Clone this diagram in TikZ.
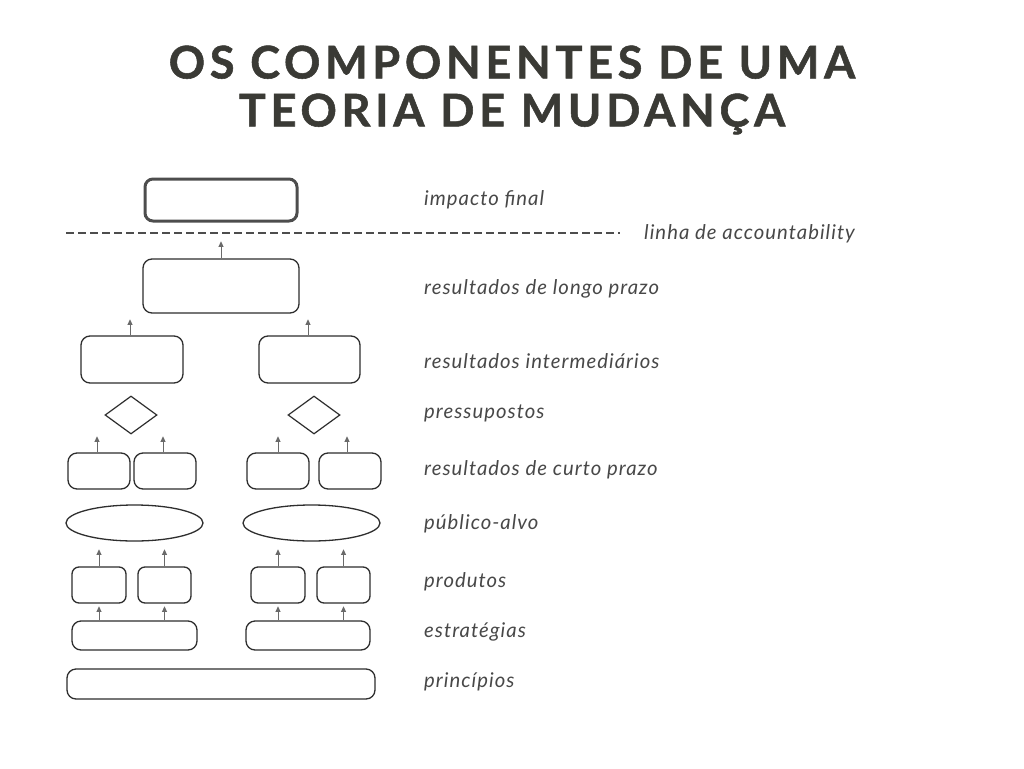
\documentclass[tikz,border=0pt]{standalone}
\usepackage{fontspec}
\setmainfont{Lato}
\newfontfamily\titlefont[LetterSpace=10.5,BoldFeatures={FakeBold=1.2}]{Lato}
\newfontfamily\labelfont[LetterSpace=5]{Lato}
\usetikzlibrary{arrows.meta,shapes.geometric}
\definecolor{ink}{HTML}{2E2E2E}
\definecolor{headline}{HTML}{3A3A35}
\definecolor{labeltxt}{HTML}{484848}
\definecolor{stub}{HTML}{6A6A6A}
\tikzset{
  >={Triangle[length=5.5pt,width=5pt]},
  box/.style={draw=ink,line width=1.3pt,rounded corners=9pt,fill=white,inner sep=0pt},
  heavybox/.style={box,draw=ink!85,line width=3pt,rounded corners=8pt},
  ellbox/.style={draw=ink,line width=1.3pt,ellipse,inner sep=0pt},
  diamondbox/.style={draw=ink,line width=1.2pt,diamond,inner sep=0pt},
  arrow/.style={->,line width=1pt,draw=stub},
  rowlabel/.style={font=\labelfont\fontsize{20.3}{23}\selectfont\itshape,text=labeltxt,anchor=west,inner sep=0pt},
  title/.style={font=\titlefont\bfseries\fontsize{45}{48}\selectfont,text=headline,align=center},
}
\begin{document}
\begin{tikzpicture}[x=1pt,y=-1pt]
\useasboundingbox[fill=white] (0,0) rectangle (1024,768);

\node[title] (heading) at (512,90) {OS COMPONENTES DE UMA\\TEORIA DE MUDANÇA};

% boxes, top to bottom
\node[heavybox,minimum width=152pt,minimum height=42pt] (impact) at (221,200) {};
\coordinate (acc0) at (66,233);
\coordinate (acc1) at (620,233);
\draw[ink!85,line width=2.6pt,dash pattern=on 7.5pt off 4.5pt] (acc0) -- (acc1);

\node[box,minimum width=156pt,minimum height=54pt] (longterm) at (221,286) {};

\node[box,minimum width=102pt,minimum height=47pt] (mid1) at (132,359.5) {};
\node[box,minimum width=101pt,minimum height=47pt] (mid2) at (309.5,359.5) {};

\node[diamondbox,minimum width=52pt,minimum height=38pt] (assume1) at (131,415) {};
\node[diamondbox,minimum width=52pt,minimum height=38pt] (assume2) at (314,415) {};

\node[box,minimum width=62pt,minimum height=36pt] (short1) at (99,471) {};
\node[box,minimum width=62pt,minimum height=36pt] (short2) at (165,471) {};
\node[box,minimum width=62pt,minimum height=36pt] (short3) at (278,471) {};
\node[box,minimum width=62pt,minimum height=36pt] (short4) at (350,471) {};

\node[ellbox,minimum width=137pt,minimum height=36pt] (public1) at (134.5,523) {};
\node[ellbox,minimum width=137pt,minimum height=36pt] (public2) at (311.5,523) {};

\node[box,rounded corners=7pt,minimum width=54pt,minimum height=36pt] (prod1) at (99,585) {};
\node[box,rounded corners=7pt,minimum width=53pt,minimum height=36pt] (prod2) at (164.5,585) {};
\node[box,rounded corners=7pt,minimum width=54pt,minimum height=36pt] (prod3) at (278,585) {};
\node[box,rounded corners=7pt,minimum width=53pt,minimum height=36pt] (prod4) at (343.5,585) {};

\node[box,minimum width=125pt,minimum height=29pt] (strat1) at (134.5,635.5) {};
\node[box,minimum width=124pt,minimum height=29pt] (strat2) at (308,635.5) {};

\node[box,minimum width=308pt,minimum height=30pt] (principles) at (221,684) {};

% stub arrows
\draw[arrow] (longterm.north) -- ++(0,-17);
\draw[arrow] ([xshift=-2pt]mid1.north) -- ++(0,-16);
\draw[arrow] ([xshift=-1.5pt]mid2.north) -- ++(0,-16);
\draw[arrow] ([xshift=-2pt]short1.north) -- ++(0,-16);
\draw[arrow] ([xshift=-2pt]short2.north) -- ++(0,-16);
\draw[arrow] (short3.north) -- ++(0,-16);
\draw[arrow] ([xshift=-3pt]short4.north) -- ++(0,-16);
\draw[arrow] (prod1.north) -- ++(0,-17);
\draw[arrow] (prod2.north) -- ++(0,-17);
\draw[arrow] (prod3.north) -- ++(0,-17);
\draw[arrow] (prod4.north) -- ++(0,-17);
\draw[arrow] (strat1.north -| prod1) -- ++(0,-14);
\draw[arrow] (strat1.north -| prod2) -- ++(0,-14);
\draw[arrow] (strat2.north -| prod3) -- ++(0,-14);
\draw[arrow] (strat2.north -| prod4) -- ++(0,-14);

% row labels
\node[rowlabel] (limpact) at (424,200) {impacto final};
\node[rowlabel] (lacc) at (644,234) {linha de accountability};
\node[rowlabel] (llong) at (424,289) {resultados de longo prazo};
\node[rowlabel] (lmid) at (424,361) {resultados intermediários};
\node[rowlabel] (lassume) at (424,413) {pressupostos};
\node[rowlabel] (lshort) at (424,470) {resultados de curto prazo};
\node[rowlabel] (lpublic) at (424,524) {público-alvo};
\node[rowlabel] (lprod) at (424,582) {produtos};
\node[rowlabel] (lstrat) at (424,632) {estratégias};
\node[rowlabel] (lprinc) at (424,682) {princípios};

\end{tikzpicture}
\end{document}
